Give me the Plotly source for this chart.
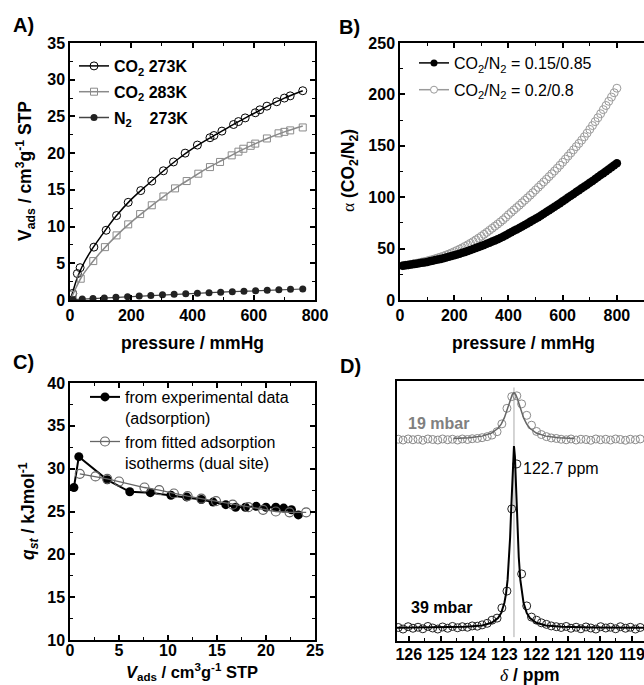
import plotly.graph_objects as go

W, H = 644, 685
FONT = "Liberation Sans, Arial, sans-serif"
GRAY = "#8a8a8a"

# ---------------- Panel A: adsorption isotherms ----------------
a273_p = [9, 24, 33, 78, 118, 152, 190, 231, 267, 305, 338, 376, 416, 457, 470, 496, 534, 550, 572, 605, 620, 643, 675, 700, 719, 760]
a273_v = [0.9, 3.6, 4.4, 7.2, 9.5, 11.5, 13.3, 14.9, 16.2, 17.6, 18.8, 20.0, 21.1, 22.1, 22.4, 23.0, 23.9, 24.3, 24.8, 25.5, 25.9, 26.4, 27.0, 27.5, 27.8, 28.5]
a273_fit_p = [0, 5, 10, 20, 40, 70, 100, 150, 200, 250, 300, 350, 400, 450, 500, 550, 600, 650, 700, 760]
a273_fit_v = [0, 0.6, 1.2, 2.6, 4.6, 6.8, 8.6, 11.4, 13.7, 15.6, 17.4, 19.1, 20.6, 21.9, 23.1, 24.3, 25.4, 26.5, 27.5, 28.5]

a283_p = [9, 35, 76, 114, 152, 190, 229, 267, 305, 343, 381, 419, 457, 490, 528, 550, 566, 590, 605, 643, 681, 700, 719, 760]
a283_v = [0.7, 2.9, 5.3, 7.2, 8.8, 10.3, 11.7, 12.9, 14.1, 15.2, 16.2, 17.2, 18.1, 18.8, 19.7, 20.2, 20.6, 21.0, 21.3, 22.0, 22.7, 22.9, 23.1, 23.5]
a283_fit_p = [0, 5, 10, 20, 40, 70, 100, 150, 200, 250, 300, 350, 400, 450, 500, 550, 600, 650, 700, 760]
a283_fit_v = [0, 0.4, 0.8, 1.7, 3.3, 5.0, 6.5, 8.7, 10.6, 12.3, 13.9, 15.4, 16.7, 18.0, 19.1, 20.2, 21.2, 22.1, 22.9, 23.7]

an2_p = [10, 40, 75, 112, 150, 188, 226, 264, 302, 340, 378, 416, 454, 492, 530, 568, 606, 644, 682, 720, 760]
an2_v = [0.05, 0.12, 0.2, 0.28, 0.36, 0.45, 0.53, 0.61, 0.7, 0.78, 0.86, 0.93, 1.0, 1.07, 1.13, 1.2, 1.27, 1.33, 1.39, 1.45, 1.5]

a_legend = ["CO<sub>2</sub> 273K", "CO<sub>2</sub> 283K", "N<sub>2</sub>\u00a0\u00a0\u00a0\u00a0273K"]

# ---------------- Panel B: selectivity ----------------
b_p = [10, 20, 30, 40, 50, 60, 70, 80, 90, 100, 110, 120, 130, 140, 150, 160, 170, 180, 190, 200,
       210, 220, 230, 240, 250, 260, 270, 280, 290, 300, 310, 320, 330, 340, 350, 360, 370, 380, 390, 400,
       410, 420, 430, 440, 450, 460, 470, 480, 490, 500, 510, 520, 530, 540, 550, 560, 570, 580, 590, 600,
       610, 620, 630, 640, 650, 660, 670, 680, 690, 700, 710, 720, 730, 740, 750, 760, 770, 780, 790, 800]
b_015 = [33.3, 33.7, 34.1, 34.5, 34.9, 35.3, 35.8, 36.2, 36.6, 37.0, 37.6, 38.2, 38.8, 39.4, 40.0, 40.6, 41.3, 42.0, 42.7, 43.5,
         44.3, 45.1, 45.9, 46.8, 47.7, 48.6, 49.6, 50.5, 51.5, 52.5, 53.6, 54.7, 55.8, 56.9, 58.0, 59.2, 60.4, 61.6, 63.0, 64.5,
         65.9, 67.3, 68.7, 70.1, 71.6, 73.0, 74.5, 76.0, 77.5, 79.0, 80.6, 82.2, 83.8, 85.5, 87.2, 88.9, 90.6, 92.4, 94.2, 96.0,
         97.8, 99.6, 101.4, 103.2, 105.0, 106.8, 108.6, 110.4, 112.2, 114.0, 115.8, 117.7, 119.6, 121.5, 123.4, 125.3, 127.2, 129.1, 131.0, 133.0]
b_020 = [33.4, 33.8, 34.2, 34.7, 35.2, 35.7, 36.2, 36.8, 37.4, 38.0, 38.7, 39.4, 40.2, 41.0, 41.8, 42.7, 43.7, 44.7, 45.8, 47.0,
         48.2, 49.5, 50.8, 52.2, 53.7, 55.2, 56.8, 58.5, 60.2, 62.0, 63.9, 65.8, 67.8, 69.8, 71.8, 73.8, 75.9, 78.0, 80.4, 83.0,
         85.3, 87.6, 89.9, 92.2, 94.6, 97.0, 99.4, 101.9, 104.4, 107.0, 109.6, 112.2, 114.8, 117.4, 120.1, 122.8, 125.5, 128.2, 131.1, 134.0,
         137.0, 140.0, 143.0, 146.1, 149.2, 152.3, 155.5, 158.8, 162.3, 166.0, 169.7, 173.5, 177.3, 181.2, 185.2, 189.2, 193.3, 197.4, 201.6, 206.0]
b_legend = ["CO<sub>2</sub>/N<sub>2</sub> = 0.15/0.85", "CO<sub>2</sub>/N<sub>2</sub> = 0.2/0.8"]

# ---------------- Panel C: isosteric heat ----------------
c_exp_v = [0.4, 0.9, 3.8, 6.1, 8.2, 10.3, 11.9, 13.4, 14.6, 15.9, 16.9, 17.9, 19.0, 20.0, 21.0, 21.8, 22.6, 23.3]
c_exp_q = [27.8, 31.4, 28.7, 27.3, 27.2, 26.9, 26.7, 26.4, 26.1, 25.8, 25.5, 25.5, 25.6, 25.5, 25.5, 25.4, 25.2, 24.6]
c_fit_v = [1.0, 2.6, 3.8, 5.0, 7.6, 9.1, 10.6, 12.0, 13.4, 14.9, 16.6, 18.2, 19.7, 21.0, 22.4, 24.1]
c_fit_q = [29.4, 29.1, 28.8, 28.5, 27.8, 27.5, 27.1, 26.8, 26.5, 26.2, 25.8, 25.5, 25.2, 25.0, 24.9, 24.9]
c_legend = ["from experimental data<br>(adsorption)", "from fitted adsorption<br>isotherms (dual site)"]

# ---------------- Panel D: 13C NMR spectra ----------------
d_ppm = [126.33, 126.18, 126.02, 125.87, 125.71, 125.56, 125.40, 125.25, 125.09, 124.94,
         124.78, 124.63, 124.47, 124.32, 124.16, 124.01, 123.85, 123.70, 123.54, 123.39,
         123.23, 123.08, 122.92, 122.77, 122.61, 122.46, 122.30, 122.15, 121.99, 121.84,
         121.68, 121.53, 121.37, 121.22, 121.06, 120.91, 120.75, 120.60, 120.44, 120.29,
         120.13, 119.98, 119.82, 119.67, 119.51, 119.36, 119.20, 119.05, 118.89, 118.74]
d_39 = [0.052, 0.046, 0.055, 0.049, 0.053, 0.047, 0.056, 0.050, 0.046, 0.054,
        0.049, 0.056, 0.051, 0.055, 0.053, 0.058, 0.057, 0.062, 0.068, 0.080,
        0.088, 0.127, 0.192, 0.508, 0.681, 0.258, 0.135, 0.092, 0.080, 0.070,
        0.064, 0.058, 0.055, 0.052, 0.056, 0.049, 0.053, 0.047, 0.054, 0.050,
        0.046, 0.055, 0.050, 0.053, 0.047, 0.055, 0.049, 0.053, 0.046, 0.052]
d_19 = [0.776, 0.773, 0.777, 0.774, 0.776, 0.772, 0.777, 0.775, 0.773, 0.777,
        0.774, 0.776, 0.773, 0.777, 0.775, 0.778, 0.779, 0.782, 0.786, 0.792,
        0.805, 0.835, 0.895, 0.940, 0.943, 0.912, 0.868, 0.830, 0.806, 0.794,
        0.786, 0.781, 0.779, 0.776, 0.774, 0.777, 0.773, 0.776, 0.775, 0.772,
        0.777, 0.774, 0.776, 0.773, 0.777, 0.775, 0.772, 0.776, 0.774, 0.777]
d39_fit_x = [126.37, 125.20, 124.20, 123.70, 123.40, 123.20, 123.10, 123.00, 122.95, 122.90, 122.85,
             122.82, 122.79, 122.76, 122.73, 122.70, 122.67, 122.64, 122.61, 122.58, 122.55, 122.50,
             122.45, 122.40, 122.30, 122.20, 122.00, 121.70, 121.20, 120.20, 118.62]
d39_fit_y = [0.051, 0.052, 0.0545, 0.060, 0.070, 0.088, 0.108, 0.147, 0.181, 0.235, 0.323,
             0.40, 0.498, 0.61, 0.709, 0.75, 0.709, 0.61, 0.498, 0.40, 0.323, 0.235,
             0.181, 0.147, 0.108, 0.088, 0.070, 0.060, 0.0545, 0.052, 0.051]
d19_fit_x = [124.60, 124.10, 123.70, 123.40, 123.20, 123.10, 123.00, 122.90, 122.85, 122.80, 122.75, 122.70,
             122.65, 122.60, 122.55, 122.50, 122.40, 122.30, 122.20, 122.00, 121.70, 121.30, 120.80]
d19_fit_y = [0.779, 0.782, 0.788, 0.800, 0.818, 0.834, 0.859, 0.894, 0.915, 0.935, 0.949, 0.955,
             0.949, 0.935, 0.915, 0.894, 0.859, 0.834, 0.818, 0.800, 0.788, 0.782, 0.779]
d_peak = 122.7
d_peak_span = [0.015, 0.975]


def px(x):
    return x / W


def py(y):
    return 1 - y / H


fig = go.Figure()

# ---- A traces
fig.add_trace(go.Scatter(x=a273_fit_p, y=a273_fit_v, mode="lines", line=dict(color="black", width=1.5, shape="spline"),
                         xaxis="x", yaxis="y", showlegend=False))
fig.add_trace(go.Scatter(x=a273_p, y=a273_v, mode="markers",
                         marker=dict(symbol="circle-open", size=8, color="black", line=dict(width=1)),
                         xaxis="x", yaxis="y", showlegend=False))
fig.add_trace(go.Scatter(x=a283_fit_p, y=a283_fit_v, mode="lines", line=dict(color=GRAY, width=1.5, shape="spline"),
                         xaxis="x", yaxis="y", showlegend=False))
fig.add_trace(go.Scatter(x=a283_p, y=a283_v, mode="markers",
                         marker=dict(symbol="square-open", size=7, color=GRAY, line=dict(width=1)),
                         xaxis="x", yaxis="y", showlegend=False))
fig.add_trace(go.Scatter(x=an2_p, y=an2_v, mode="lines+markers", line=dict(color="#444", width=1.2),
                         marker=dict(symbol="circle", size=7, color="#222"),
                         xaxis="x", yaxis="y", showlegend=False))
# A legend entries
fig.add_trace(go.Scatter(x=[None], y=[None], mode="lines+markers", name=a_legend[0], legend="legend",
                         legendgroup="a1", line=dict(color="black", width=1.5),
                         marker=dict(symbol="circle-open", size=8, color="black", line=dict(width=1)),
                         xaxis="x", yaxis="y"))
fig.add_trace(go.Scatter(x=[None], y=[None], mode="lines+markers", name=a_legend[1], legend="legend",
                         legendgroup="a2", line=dict(color=GRAY, width=1.5),
                         marker=dict(symbol="square-open", size=7, color=GRAY, line=dict(width=1)),
                         xaxis="x", yaxis="y"))
fig.add_trace(go.Scatter(x=[None], y=[None], mode="lines+markers", name=a_legend[2], legend="legend",
                         legendgroup="a3", line=dict(color="#444", width=1.5),
                         marker=dict(symbol="circle", size=7, color="#222"),
                         xaxis="x", yaxis="y"))

# ---- B traces
fig.add_trace(go.Scatter(x=b_p, y=b_020, mode="markers",
                         marker=dict(symbol="circle-open", size=8, color="#9a9a9a", line=dict(width=1)),
                         xaxis="x2", yaxis="y2", showlegend=False))
fig.add_trace(go.Scatter(x=b_p, y=b_015, mode="markers",
                         marker=dict(symbol="circle", size=8.5, color="black"),
                         xaxis="x2", yaxis="y2", showlegend=False))
fig.add_trace(go.Scatter(x=[None], y=[None], mode="lines+markers", name=b_legend[0], legend="legend2",
                         legendgroup="b1",
                         line=dict(color="black", width=1.5), marker=dict(symbol="circle", size=7, color="black"),
                         xaxis="x2", yaxis="y2"))
fig.add_trace(go.Scatter(x=[None], y=[None], mode="lines+markers", name=b_legend[1], legend="legend2",
                         legendgroup="b2",
                         line=dict(color="#9a9a9a", width=1.5),
                         marker=dict(symbol="circle", size=7, color="white", line=dict(color="#9a9a9a", width=1)),
                         xaxis="x2", yaxis="y2"))

# ---- C traces
fig.add_trace(go.Scatter(x=c_exp_v, y=c_exp_q, mode="lines+markers", name=c_legend[0], legend="legend3",
                         line=dict(color="black", width=2), marker=dict(symbol="circle", size=9, color="black"),
                         xaxis="x3", yaxis="y3"))
fig.add_trace(go.Scatter(x=c_fit_v, y=c_fit_q, mode="lines+markers", name=c_legend[1], legend="legend3",
                         line=dict(color="#666", width=1.3),
                         marker=dict(symbol="circle-open", size=9, color="#666", line=dict(width=1.2)),
                         xaxis="x3", yaxis="y3"))

# ---- D traces
fig.add_trace(go.Scatter(x=[d_peak, d_peak], y=d_peak_span, mode="lines", line=dict(color="#aaa", width=1),
                         xaxis="x4", yaxis="y4", showlegend=False))
fig.add_trace(go.Scatter(x=d_ppm, y=d_19, mode="markers",
                         marker=dict(symbol="circle-open", size=8, color="#8a8a8a", line=dict(width=1)),
                         xaxis="x4", yaxis="y4", showlegend=False))
fig.add_trace(go.Scatter(x=d19_fit_x, y=d19_fit_y, mode="lines", line=dict(color="#666", width=1.5),
                         xaxis="x4", yaxis="y4", showlegend=False))
fig.add_trace(go.Scatter(x=d_ppm, y=d_39, mode="markers",
                         marker=dict(symbol="circle-open", size=8, color="#222", line=dict(width=1)),
                         xaxis="x4", yaxis="y4", showlegend=False))
fig.add_trace(go.Scatter(x=d39_fit_x, y=d39_fit_y, mode="lines", line=dict(color="black", width=2),
                         xaxis="x4", yaxis="y4", showlegend=False))

tickfont = dict(family=FONT, size=16, color="black", weight="bold")


def ax(domain, rng, dtick, minor_dtick, mirror="allticks", showline=True, **kw):
    d = dict(domain=domain, range=rng, dtick=dtick, tick0=0, showline=showline, linecolor="black", linewidth=1.5,
             mirror=mirror, ticks="inside", ticklen=5, tickwidth=1.5, tickcolor="black",
             showgrid=False, zeroline=False, tickfont=tickfont, automargin=False,
             ticklabeloverflow="allow",
             minor=dict(ticks="inside", ticklen=3, tickwidth=1.2, tickcolor="black", dtick=minor_dtick, tick0=0,
                        showgrid=False))
    d.update(kw)
    return d


xA = [px(70), px(315)]
yA = [py(300), py(43)]
xB = [px(400), 1.0]
xC = [px(70), px(315)]
yC = [py(640), py(383)]
xD = [px(397), 1.0]
yD = [py(641), py(381)]

layout = dict(
    width=W, height=H, margin=dict(l=0, r=0, t=0, b=0, autoexpand=False),
    paper_bgcolor="white", plot_bgcolor="white",
    font=dict(family=FONT, color="black", size=16),
    xaxis=ax(xA, [0, 800], 200, 100, anchor="y"),
    yaxis=ax(yA, [0, 35], 5, 2.5, anchor="x"),
    xaxis2=ax(xB, [0, 900], 200, 100, anchor="y2"),
    yaxis2=ax(yA, [0, 250], 50, 25, mirror=False, anchor="x2"),
    xaxis3=ax(xC, [0, 25], 5, 2.5, anchor="y3", ticklabelstandoff=-5),
    yaxis3=ax(yC, [10, 40], 5, 2.5, anchor="x3"),
    xaxis4=ax(xD, [126.37, 118.62], 1, 0.5, mirror=True, anchor="y4", ticklabelstandoff=-2),
    yaxis4=dict(domain=yD, range=[0, 1], showline=True, linecolor="black", linewidth=1.5, mirror=False,
                ticks="", showticklabels=False, showgrid=False, zeroline=False, anchor="x4"),
    legend=dict(x=px(74), y=py(49), xanchor="left", yanchor="top", bgcolor="rgba(0,0,0,0)",
                font=dict(family=FONT, size=16, color="black", weight="bold"), tracegroupgap=2),
    legend2=dict(x=px(414), y=py(46), xanchor="left", yanchor="top", bgcolor="rgba(0,0,0,0)",
                 font=dict(family=FONT, size=16, color="black"), tracegroupgap=3),
    legend3=dict(x=px(85), y=py(380), xanchor="left", yanchor="top", bgcolor="rgba(0,0,0,0)",
                 font=dict(family=FONT, size=16, color="black"), tracegroupgap=0, valign="top"),
)
fig.update_layout(**layout)

B = dict(family=FONT, size=17.5, color="black", weight="bold")
ann = [
    dict(text="A)", x=px(23), y=py(25), font=dict(family=FONT, size=20, color="black", weight="bold")),
    dict(text="B)", x=px(349), y=py(27), font=dict(family=FONT, size=20, color="black", weight="bold")),
    dict(text="C)", x=px(23), y=py(362), font=dict(family=FONT, size=20, color="black", weight="bold")),
    dict(text="D)", x=px(351), y=py(366), font=dict(family=FONT, size=20, color="black", weight="bold")),
    dict(text="pressure / mmHg", x=px(192), y=py(343), font=B),
    dict(text="pressure / mmHg", x=px(523), y=py(343), font=B),
    dict(text="V<sub>ads</sub> / cm<sup>3</sup>g<sup>-1</sup> STP", x=px(26), y=py(171), textangle=-90, font=B),
    dict(text="<span style='font-family:Liberation Serif;font-weight:normal'>α</span> (CO<sub>2</sub>/N<sub>2</sub>)",
         x=px(350), y=py(171), textangle=-90, font=B),
    dict(text="<i>q</i><sub><i>st</i></sub> / kJmol<sup>-1</sup>", x=px(28), y=py(511), textangle=-90, font=B),
    dict(text="<i>V</i><sub>ads</sub> / cm<sup>3</sup>g<sup>-1</sup> STP", x=px(192), y=py(672),
         font=dict(family=FONT, size=16.5, color="black", weight="bold")),
    dict(text="<span style='font-family:Liberation Serif;font-weight:normal'><i>δ</i></span> / ppm",
         x=px(530), y=py(675), font=B),
    dict(text="19 mbar", x=px(438), y=py(423), font=dict(family=FONT, size=16, color="#808080", weight="bold")),
    dict(text="122.7 ppm", x=px(561), y=py(468), font=dict(family=FONT, size=16, color="black")),
    dict(text="39 mbar", x=px(441), y=py(607), font=dict(family=FONT, size=16, color="black", weight="bold")),
]
for a in ann:
    a.update(xref="paper", yref="paper", showarrow=False, xanchor="center", yanchor="middle")
fig.update_layout(annotations=ann)

fig.write_html("out.html", config={"displayModeBar": False},
               post_script="document.body.style.margin='0px';")
